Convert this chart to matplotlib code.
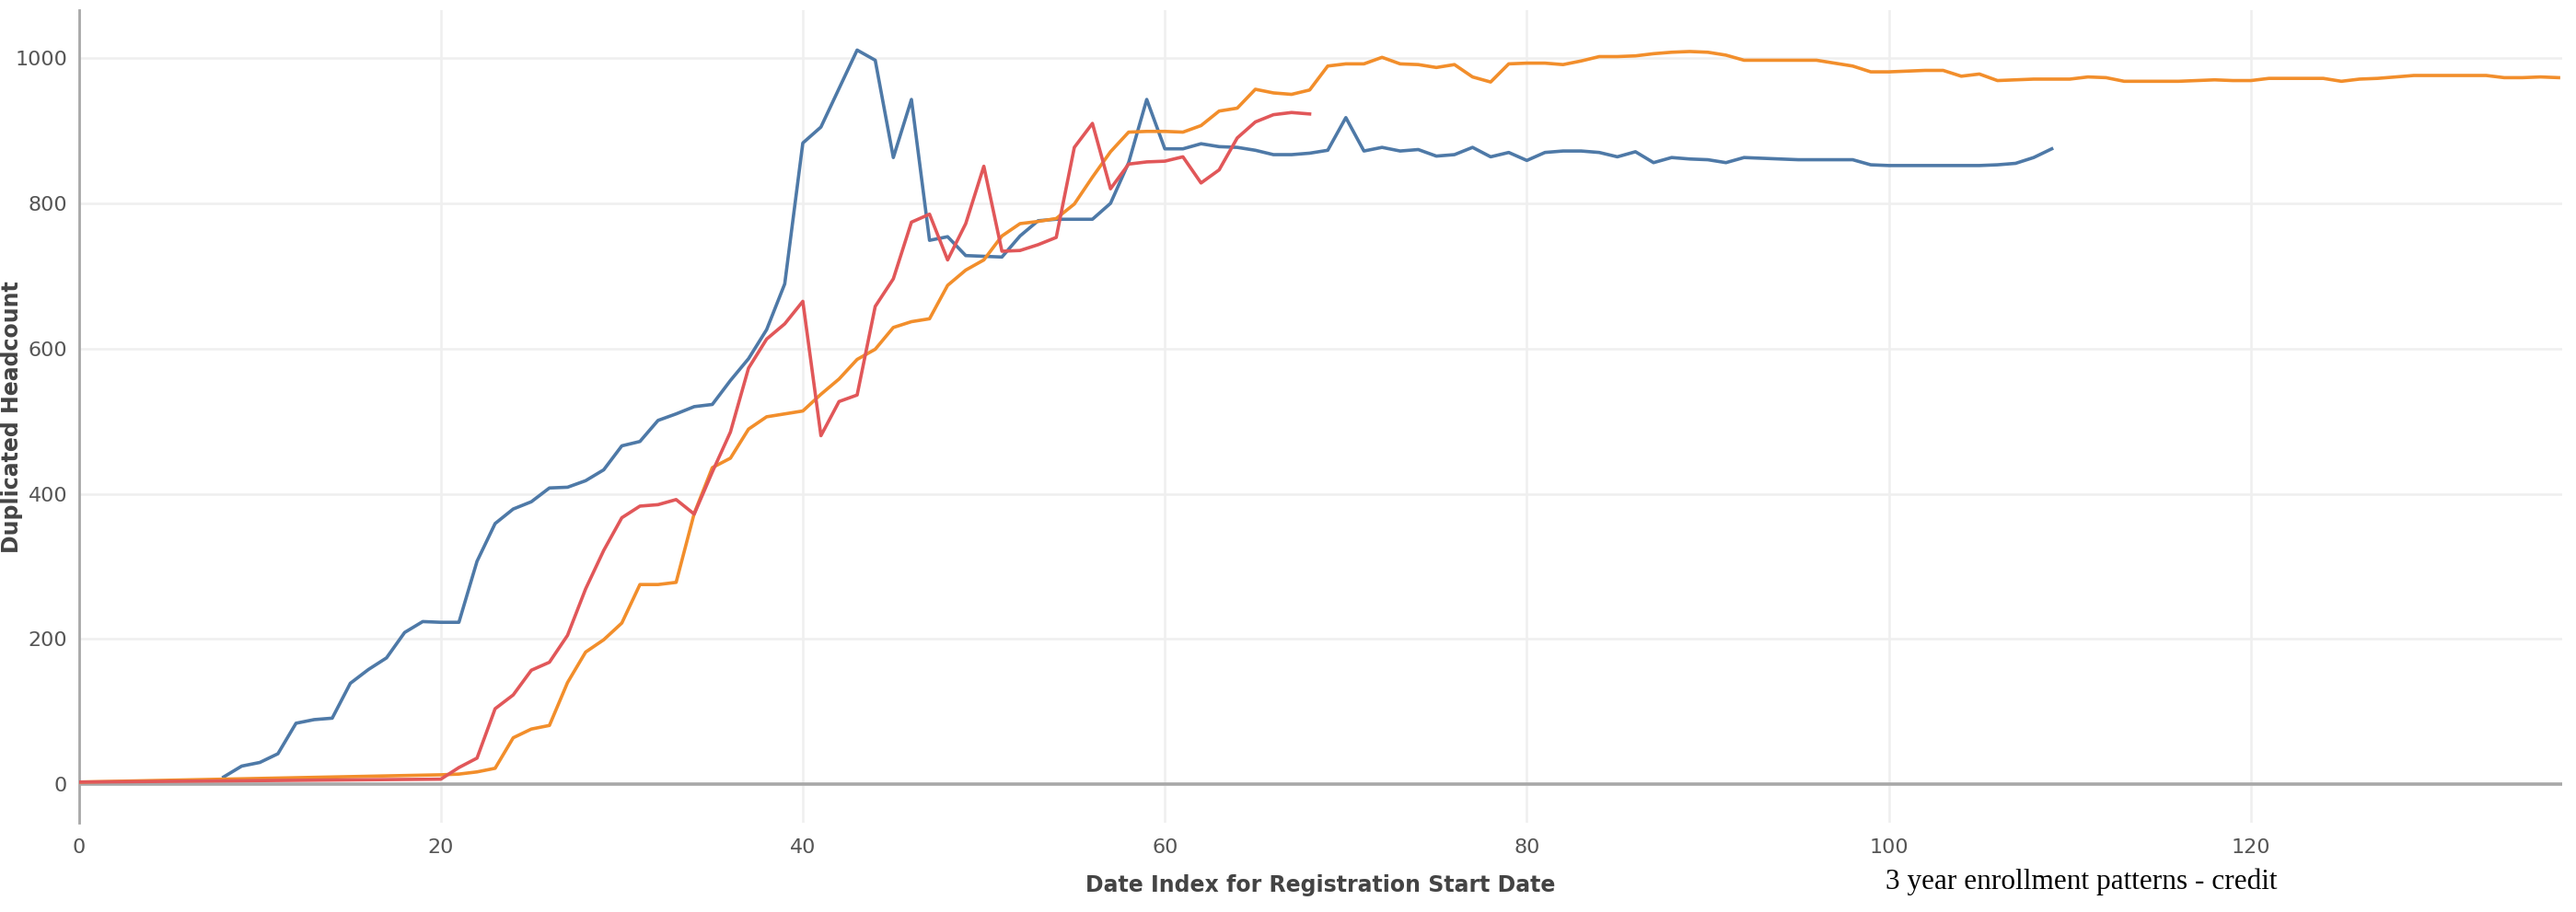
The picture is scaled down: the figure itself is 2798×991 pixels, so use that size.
import matplotlib
matplotlib.use("Agg")
import matplotlib.pyplot as plt

# ---- data ----
blue_x = list(range(8, 110))
blue_y = [10, 25, 30, 42, 84, 89, 91, 139, 158, 174, 209, 224, 223, 223, 307, 359,
          379, 389, 408, 409, 418, 433, 466, 472, 501, 510, 520, 523, 556, 586, 626,
          689, 883, 905, 958, 1011, 997, 863, 943, 749, 754, 728, 727, 726, 755, 776,
          778, 778, 778, 800, 856, 943, 875, 875, 882, 878, 877, 873, 867, 867, 869,
          873, 918, 872, 877, 872, 874, 865, 867, 877, 864, 870, 859, 870, 872, 872,
          870, 864, 871, 856, 863, 861, 860, 856, 863, 862, 861, 860, 860, 860, 860,
          853, 852, 852, 852, 852, 852, 852, 853, 855, 863, 875]

red_x = [0] + list(range(20, 69))
red_y = [3, 7, 23, 36, 104, 123, 157, 168, 205, 269, 322, 367, 383, 385, 392, 372,
         430, 485, 573, 613, 634, 665, 480, 527, 536, 658, 696, 774, 785, 722, 772,
         851, 734, 735, 743, 753, 877, 910, 820, 854, 857, 858, 864, 828, 846, 890,
         912, 922, 925, 923]

orange_x = [0] + list(range(20, 138))
orange_y = [3, 13, 14, 17, 22, 64, 76, 81, 140, 182, 199, 222, 275, 275, 278, 373,
            436, 449, 489, 506, 510, 514, 537, 558, 585, 599, 629, 637, 641, 687, 708,
            722, 755, 772, 775, 779, 799, 836, 871, 898, 899, 899, 898, 907, 927, 931,
            957, 952, 950, 956, 989, 992, 992, 1001, 992, 991, 987, 991, 974, 967, 992,
            993, 993, 991, 996, 1002, 1002, 1003, 1006, 1008, 1009, 1008, 1004, 997,
            997, 997, 997, 997, 993, 989, 981, 981, 982, 983, 983, 975, 978, 969, 970,
            971, 971, 971, 974, 973, 968, 968, 968, 968, 969, 970, 969, 969, 972, 972,
            972, 972, 968, 971, 972, 974, 976, 976, 976, 976, 976, 973, 973, 974, 973]

x_ticks = [0, 20, 40, 60, 80, 100, 120]
y_ticks = [0, 200, 400, 600, 800, 1000]

# ---- figure ----
W, H = 2798, 991
fig = plt.figure(figsize=(W / 100, H / 100), dpi=100)
ax = fig.add_axes([85.6 / W, 1 - 894 / H, (2783 - 85.6) / W, (894 - 11) / H])

ax.set_xlim(0, 137.2)
ax.set_ylim(-53, 1066)

ax.set_xticks(x_ticks)
ax.set_yticks(y_ticks)
ax.grid(True, color="#efefef", linewidth=1.8)
ax.set_axisbelow(True)

ax.axhline(0, color="#a8a8a8", linewidth=2.6, zorder=1.5)

lw = 2.6
ax.plot(blue_x, blue_y, color="#4e79a7", linewidth=lw, zorder=3)
ax.plot(orange_x, orange_y, color="#f28e2b", linewidth=lw, zorder=3)
ax.plot(red_x, red_y, color="#e15759", linewidth=lw, zorder=3)

for s in ["top", "right", "bottom"]:
    ax.spines[s].set_visible(False)
ax.spines["left"].set_color("#a8a8a8")
ax.spines["left"].set_linewidth(2.0)

ax.tick_params(axis="both", length=0, labelsize=16, labelcolor="#555555")
ax.tick_params(axis="y", pad=9)
ax.tick_params(axis="x", pad=12)

ax.set_xlabel("Date Index for Registration Start Date", fontsize=17,
              fontweight="bold", color="#444444", labelpad=14)

fig.text(13 / W, 1 - 453 / H, "Duplicated Headcount", fontsize=17,
         fontweight="bold", color="#444444", rotation=90,
         ha="center", va="center")

fig.text(2261 / W, 1 - 958 / H, "3 year enrollment patterns - credit",
         fontsize=22.5, family="Liberation Serif", color="black",
         ha="center", va="center")

fig.savefig("out.png", dpi=100, facecolor="white")
